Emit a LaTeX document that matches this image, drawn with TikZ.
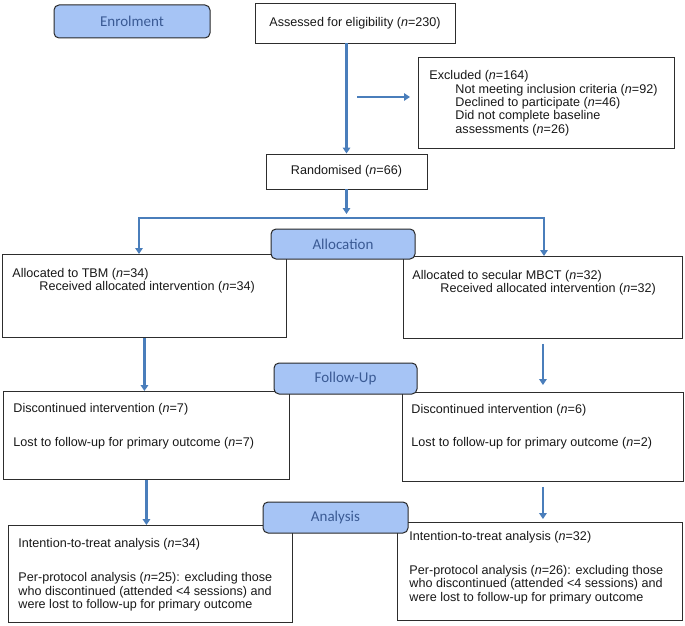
\documentclass[tikz,border=0pt]{standalone}
\usepackage{fontspec}
\setmainfont{Liberation Sans}
\newfontfamily\lblfont{Carlito}
\usetikzlibrary{arrows.meta,calc}
\definecolor{arrowblue}{RGB}{74,126,187}
\definecolor{lblfill}{RGB}{166,196,245}
\definecolor{lbltext}{RGB}{58,90,148}
\definecolor{lblborder}{RGB}{40,40,40}
\definecolor{boxline}{RGB}{45,45,45}
\definecolor{textcol}{RGB}{25,25,25}
\newcommand\bxc[4]{\parbox[c][#2][t]{#1}{\raggedright\vspace*{#3}#4}}
\begin{document}
\begin{tikzpicture}[x=1pt,y=-1pt,
  txt/.style={font=\fontsize{12.6}{13.3}\selectfont, text=textcol},
  tbox/.style={draw=boxline, line width=0.9pt, fill=white, inner xsep=#1, inner ysep=0pt, anchor=north west, txt},
  cbox/.style={draw=boxline, line width=0.9pt, fill=white, inner sep=0pt, txt},
  lbl/.style={draw=lblborder, line width=1pt, fill=lblfill, rounded corners=5pt, inner sep=0pt, font=\lblfont\fontsize{15}{18}\selectfont, text=lbltext},
  flow/.style={draw=arrowblue, line width=2.4pt, -{Triangle[length=6pt,width=7.5pt]}},
  flowtwo/.style={draw=arrowblue, line width=2.4pt, {Triangle[length=6pt,width=7.5pt]}-{Triangle[length=6pt,width=7.5pt]}}]
\useasboundingbox (0,0) rectangle (685,626);

% text boxes
\node[cbox, minimum width=200pt, minimum height=40pt] (assess) at (355,23) {Assessed for eligibility (\textit{n}=230)};
\node[tbox=11pt] (excl) at (418,57) {\bxc{234pt}{91pt}{13.2pt}{\strut Excluded (\textit{n}=164)\\
  \hspace*{26pt}Not meeting inclusion criteria (\textit{n}=92)\\
  \hspace*{26pt}Declined to participate (\textit{n}=46)\\
  \hspace*{26pt}Did not complete baseline\\
  \hspace*{26pt}assessments (\textit{n}=26)}};
\node[cbox, minimum width=161pt, minimum height=35pt] (rand) at (346.5,171.5) {Randomised (\textit{n}=66)};
\node[tbox=10pt] (tbm) at (2,254) {\bxc{264pt}{83pt}{13.7pt}{\strut Allocated to TBM (\textit{n}=34)\\
  \hspace*{27pt}Received allocated intervention (\textit{n}=34)}};
\node[tbox=9pt] (mbct) at (403,256) {\bxc{261pt}{82pt}{13.7pt}{\strut Allocated to secular MBCT (\textit{n}=32)\\
  \hspace*{28pt}Received allocated intervention (\textit{n}=32)}};
\node[tbox=10pt] (disl) at (3,391) {\bxc{266pt}{88pt}{11.7pt}{\strut Discontinued intervention (\textit{n}=7)\\[20.7pt]
  Lost to follow-up for primary outcome (\textit{n}=7)}};
\node[tbox=9pt] (disr) at (402,392) {\bxc{263pt}{89pt}{11.7pt}{\strut Discontinued intervention (\textit{n}=6)\\[19.7pt]
  Lost to follow-up for primary outcome (\textit{n}=2)}};
\node[tbox=10pt] (ittl) at (8,525) {\bxc{264pt}{97pt}{12.7pt}{\strut Intention-to-treat analysis (\textit{n}=34)\\[21.2pt]
  Per-protocol analysis (\textit{n}=25): excluding those\\
  who discontinued (attended <4 sessions) and\\
  were lost to follow-up for primary outcome}};
\node[tbox=12pt] (ittr) at (397,522) {\bxc{261pt}{98pt}{8.7pt}{\strut Intention-to-treat analysis (\textit{n}=32)\\[20.7pt]
  Per-protocol analysis (\textit{n}=26): excluding those\\
  who discontinued (attended <4 sessions) and\\
  were lost to follow-up for primary outcome}};

% stage labels
\node[lbl, minimum width=156pt, minimum height=33pt] (enrol) at (132,21.5) {Enrolment};
\node[lbl, minimum width=144pt, minimum height=30pt] (alloc) at (343,244) {Allocation};
\node[lbl, minimum width=143pt, minimum height=31pt] (follow) at (345.5,378.5) {Follow-Up};
\node[lbl, minimum width=145pt, minimum height=31pt] (analysis) at (335.5,517.5) {Analysis};

% connectors
\coordinate (exA) at (357,97);
\coordinate (brM) at (346.5,218);
\coordinate (brL) at (139,218);
\coordinate (brR) at (544,218);
\draw[flow] (assess.south -| rand.north) -- (rand.north);
\draw[flow, shorten >=8pt] (exA) -- (exA -| excl.west);
\draw[flow, shorten >=4pt] (rand.south) -- (brM);
\draw[flowtwo] (brL |- tbm.north) -- (brL) -- (brR) -- (brR |- mbct.north);
\draw[flow] (tbm.south) -- (tbm.south |- disl.north);
\draw[flow, shorten <=5pt, shorten >=7pt] (mbct.south) -- (mbct.south |- disr.north);
\draw[flow] (disl.south) -- (disl.south |- ittl.north);
\draw[flow, shorten <=5pt, shorten >=3pt] (disr.south) -- (disr.south |- ittr.north);
\end{tikzpicture}
\end{document}
